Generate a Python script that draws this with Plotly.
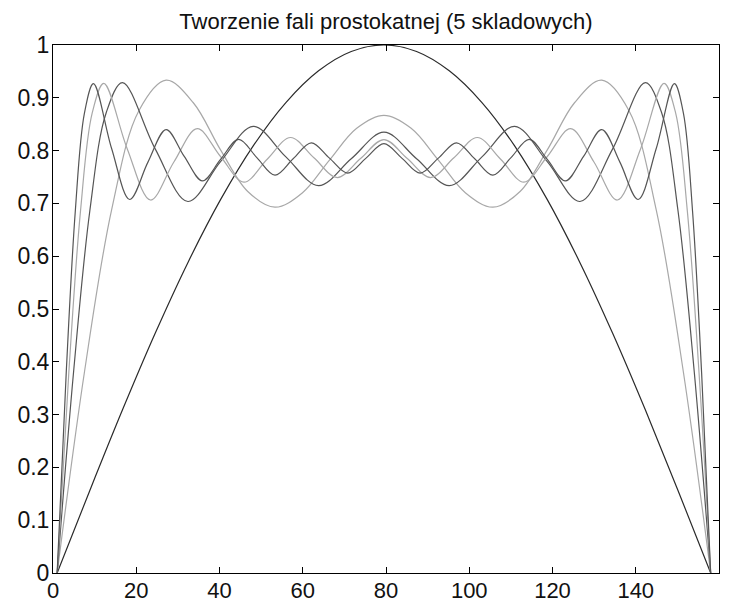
import plotly.graph_objects as go

# Partial sums of the square-wave series
x_s1 = [1.00, 8.85, 16.70, 24.55, 32.40, 40.25, 48.10, 55.95, 63.80, 71.65, 79.50,
        87.35, 95.20, 103.05, 110.90, 118.75, 126.60, 134.45, 142.30, 150.15, 158.00]
y_s1 = [0.0, 0.1564, 0.3090, 0.4540, 0.5878, 0.7071, 0.8090, 0.8910, 0.9511, 0.9877, 1.0,
        0.9877, 0.9511, 0.8910, 0.8090, 0.7071, 0.5878, 0.4540, 0.3090, 0.1564, 0.0]

x_s3 = [1.00, 7.54, 14.08, 20.63, 27.17, 33.71, 40.25, 46.79, 53.33, 59.88, 66.42, 72.96, 79.50,
        86.04, 92.58, 99.12, 105.67, 112.21, 118.75, 125.29, 131.83, 138.38, 144.92, 151.46, 158.00]
y_s3 = [0.0, 0.3798, 0.6877, 0.8755, 0.9333, 0.8906, 0.8014, 0.7226, 0.6928, 0.7198, 0.7820, 0.8422, 0.8667,
        0.8422, 0.7820, 0.7198, 0.6928, 0.7226, 0.8014, 0.8906, 0.9333, 0.8755, 0.6877, 0.3798, 0.0]

x_s5 = [1.00, 4.93, 8.85, 12.78, 16.70, 24.55, 32.40, 40.25, 48.10, 55.95, 63.80, 71.65, 79.50,
        87.35, 95.20, 103.05, 110.90, 118.75, 126.60, 134.45, 142.30, 146.22, 150.15, 154.07, 158.00]
y_s5 = [0.0, 0.3796, 0.6861, 0.8718, 0.9286, 0.8033, 0.7036, 0.7790, 0.8460, 0.7882, 0.7335, 0.7846, 0.8349,
        0.7846, 0.7335, 0.7882, 0.8460, 0.7790, 0.7036, 0.8033, 0.9286, 0.8718, 0.6861, 0.3796, 0.0]

x_s7 = [1.00, 3.80, 6.61, 9.41, 12.21, 17.82, 23.43, 29.04, 34.64, 40.25, 45.86, 51.46, 57.07, 62.68,
        68.29, 73.89, 79.50, 85.11, 90.71, 96.32, 101.93, 107.54, 113.14, 118.75, 124.36, 129.96,
        135.57, 141.18, 146.79, 149.59, 152.39, 155.20, 158.00]
y_s7 = [0.0, 0.3796, 0.6858, 0.8709, 0.9273, 0.8037, 0.7064, 0.7784, 0.8416, 0.7888, 0.7402, 0.7836, 0.8248,
        0.7863, 0.7490, 0.7851, 0.8209, 0.7851, 0.7490, 0.7863, 0.8248, 0.7836, 0.7402, 0.7888, 0.8416,
        0.7784, 0.7064, 0.8037, 0.9273, 0.8709, 0.6858, 0.3796, 0.0]

x_s9 = [1.00, 3.18, 5.36, 7.54, 9.72, 14.08, 18.44, 22.81, 27.17, 31.53, 35.89, 40.25, 44.61, 48.97,
        53.33, 57.69, 62.06, 66.42, 70.78, 75.14, 79.50, 83.86, 88.22, 92.58, 96.94, 101.31, 105.67,
        110.03, 114.39, 118.75, 123.11, 127.47, 131.83, 136.19, 140.56, 144.92, 149.28, 151.46,
        153.64, 155.82, 158.00]
y_s9 = [0.0, 0.3796, 0.6857, 0.8705, 0.9268, 0.8039, 0.7074, 0.7782, 0.8399, 0.7891, 0.7427, 0.7833,
        0.8214, 0.7867, 0.7535, 0.7846, 0.8148, 0.7858, 0.7573, 0.7853, 0.8131, 0.7853, 0.7573, 0.7858,
        0.8148, 0.7846, 0.7535, 0.7867, 0.8214, 0.7833, 0.7427, 0.7891, 0.8399, 0.7782, 0.7074, 0.8039,
        0.9268, 0.8705, 0.6857, 0.3796, 0.0]

x_ticks = [0, 20, 40, 60, 80, 100, 120, 140, 160]
y_ticks = [0, 0.1, 0.2, 0.3, 0.4, 0.5, 0.6, 0.7, 0.8, 0.9, 1]
y_tick_labels = ["0", "0.1", "0.2", "0.3", "0.4", "0.5", "0.6", "0.7", "0.8", "0.9", "1"]
title_text = "Tworzenie fali prostokatnej (5 skladowych)"

series = [
    (x_s1, y_s1, "#2a2a2a"),
    (x_s3, y_s3, "#a8a8a8"),
    (x_s5, y_s5, "#555555"),
    (x_s7, y_s7, "#a8a8a8"),
    (x_s9, y_s9, "#555555"),
]

fig = go.Figure()
for xs, ys, col in series:
    fig.add_trace(go.Scatter(x=xs, y=ys, mode="lines",
                             line=dict(color=col, width=1.2, shape="spline", smoothing=1.0),
                             showlegend=False, hoverinfo="skip"))

# The page body adds an 8px offset, so the figure is sized to fit inside the 737x605 window.
font_family = "Liberation Sans, Arial, sans-serif"
fig.update_layout(
    width=729, height=597,
    margin=dict(l=45, r=18, t=37, b=32, autoexpand=False),
    paper_bgcolor="white", plot_bgcolor="white",
    title=dict(text=title_text, x=0.5, xref="paper", xanchor="center",
               y=1, yref="container", yanchor="top", pad=dict(t=6),
               font=dict(family=font_family, size=22, color="#111111")),
    font=dict(family=font_family, size=23, color="#111111"),
)
fig.update_xaxes(range=[0, 160], tickvals=x_ticks, ticktext=[str(v) for v in x_ticks],
                 ticks="inside", ticklen=6, tickcolor="black", showline=True, linecolor="black",
                 linewidth=1, mirror="ticks", showgrid=False, zeroline=False, fixedrange=True,
                 automargin=False, ticklabelstandoff=-2, tickfont=dict(size=22))
fig.update_yaxes(range=[0, 1], tickvals=y_ticks, ticktext=y_tick_labels,
                 ticks="inside", ticklen=6, tickcolor="black", showline=True, linecolor="black",
                 linewidth=1, mirror="ticks", showgrid=False, zeroline=False, fixedrange=True,
                 automargin=False, ticklabelstandoff=-2)

fig.write_html("out.html")
